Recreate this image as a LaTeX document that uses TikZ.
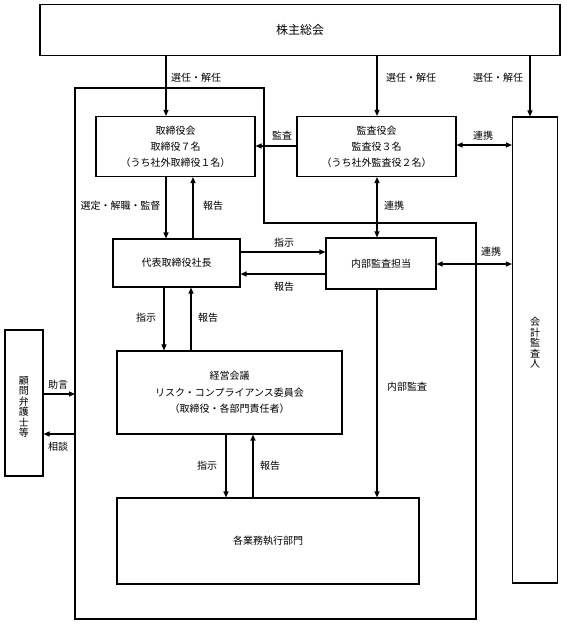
\documentclass[tikz,border=0pt]{standalone}
\usepackage{fontspec}
\setmainfont{Noto Sans CJK JP}
\usetikzlibrary{arrows.meta}
\begin{document}
\begin{tikzpicture}[x=1pt,y=-1pt,
 box/.style={draw, line width=1.1pt, inner sep=0pt, align=center, font=\fontsize{10}{16}\selectfont},
 lbl/.style={inner sep=0pt, font=\fontsize{10}{12}\selectfont},
 frameline/.style={line width=1.1pt},
 arr/.style={line width=1.1pt, -{Triangle[length=6pt,width=5pt]}},
 darr/.style={line width=1.1pt, {Triangle[length=6pt,width=5pt]}-{Triangle[length=6pt,width=5pt]}},
 vtext/.style={align=center, inner sep=0pt, font=\fontsize{10}{10.5}\selectfont}]
\useasboundingbox (0,0) rectangle (566,627);

% boxes
\node[box, minimum width=520pt, minimum height=51pt] (sh) at (300,30) {\fontsize{12}{14}\selectfont 株主総会};
\node[box, minimum width=159pt, minimum height=60pt] (tb) at (175.5,146.5) {取締役会\\取締役７名\\（うち社外取締役１名）};
\node[box, minimum width=159pt, minimum height=60pt] (ka) at (376.5,146.5) {監査役会\\監査役３名\\（うち社外監査役２名）};
\node[box, minimum width=45pt, minimum height=466pt] (kk) at (535,350) {};
\node[vtext] (kkt) at (535,343) {会\\計\\監\\査\\人};
\node[box, minimum width=127pt, minimum height=48pt] (ds) at (176.5,263) {代表取締役社長};
\node[box, minimum width=110pt, minimum height=51pt] (nb) at (381,263.5) {内部監査担当};
\node[box, minimum width=225pt, minimum height=83pt, font=\fontsize{10}{16.5}\selectfont] (kg) at (229.5,392.5) {経営会議\\リスク・コンプライアンス委員会\\（取締役・各部門責任者）};
\node[box, minimum width=302pt, minimum height=86pt] (kb) at (268,541) {各業務執行部門};
\node[box, minimum width=38pt, minimum height=146pt] (kc) at (24,403) {};
\node[vtext] (kct) at (24,407) {顧\\問\\弁\\護\\士\\等};

% frame
\coordinate (fA) at (75,88);
\coordinate (fB) at (264,88);
\coordinate (fC) at (264,223);
\coordinate (fD) at (476,223);
\coordinate (fE) at (476,619);
\coordinate (fF) at (75,619);
\draw[frameline] (fA) -- (fB) -- (fC) -- (fD) -- (fE) -- (fF) -- cycle;

% columns and rows
\coordinate (c1) at (166,0);
\coordinate (c2) at (193,0);
\coordinate (c3) at (164,0);
\coordinate (c4) at (191,0);
\coordinate (c5) at (226,0);
\coordinate (c6) at (253,0);
\coordinate (c7) at (377,0);
\coordinate (c8) at (530,0);
\coordinate (r1) at (0,146);
\coordinate (r2) at (0,145);
\coordinate (r3) at (0,252);
\coordinate (r4) at (0,274);
\coordinate (r5) at (0,264);
\coordinate (r6) at (0,394);
\coordinate (r7) at (0,434);

% connectors
\draw[arr] (sh.south -| c1) -- (tb.north -| c1);
\draw[arr] (sh.south -| c7) -- (ka.north -| c7);
\draw[arr] (sh.south -| c8) -- (kk.north -| c8);
\draw[arr] (ka.west |- r1) -- (tb.east |- r1);
\draw[darr] (ka.east |- r2) -- (kk.west |- r2);
\draw[arr] (tb.south -| c1) -- (ds.north -| c1);
\draw[arr] (ds.north -| c2) -- (tb.south -| c2);
\draw[darr] (ka.south -| c7) -- (nb.north -| c7);
\draw[arr] (ds.east |- r3) -- (nb.west |- r3);
\draw[arr] (nb.west |- r4) -- (ds.east |- r4);
\draw[darr] (nb.east |- r5) -- (kk.west |- r5);
\draw[arr] (ds.south -| c3) -- (kg.north -| c3);
\draw[arr] (kg.north -| c4) -- (ds.south -| c4);
\draw[arr] (kg.south -| c5) -- (kb.north -| c5);
\draw[arr] (kb.north -| c6) -- (kg.south -| c6);
\draw[arr] (nb.south -| c7) -- (kb.north -| c7);
\draw[arr] (kc.east |- r6) -- (fA |- r6);
\draw[arr] (fA |- r7) -- (kc.east |- r7);

% labels
\node[lbl] (l1) at (196,78) {選任・解任};
\node[lbl] (l2) at (411,78) {選任・解任};
\node[lbl] (l3) at (498,78) {選任・解任};
\node[lbl] (l4) at (282,136) {監査};
\node[lbl] (l5) at (483,136) {連携};
\node[lbl] (l6) at (120.5,206) {選定・解職・監督};
\node[lbl] (l7) at (213,206) {報告};
\node[lbl] (l8) at (394,206) {連携};
\node[lbl] (l9) at (284,243) {指示};
\node[lbl] (l10) at (284,287) {報告};
\node[lbl] (l11) at (491,252) {連携};
\node[lbl] (l12) at (146,318) {指示};
\node[lbl] (l13) at (208,318) {報告};
\node[lbl] (l14) at (407,387) {内部監査};
\node[lbl] (l15) at (58,385) {助言};
\node[lbl] (l16) at (58,447) {相談};
\node[lbl] (l17) at (207,466) {指示};
\node[lbl] (l18) at (270,466) {報告};
\end{tikzpicture}
\end{document}
